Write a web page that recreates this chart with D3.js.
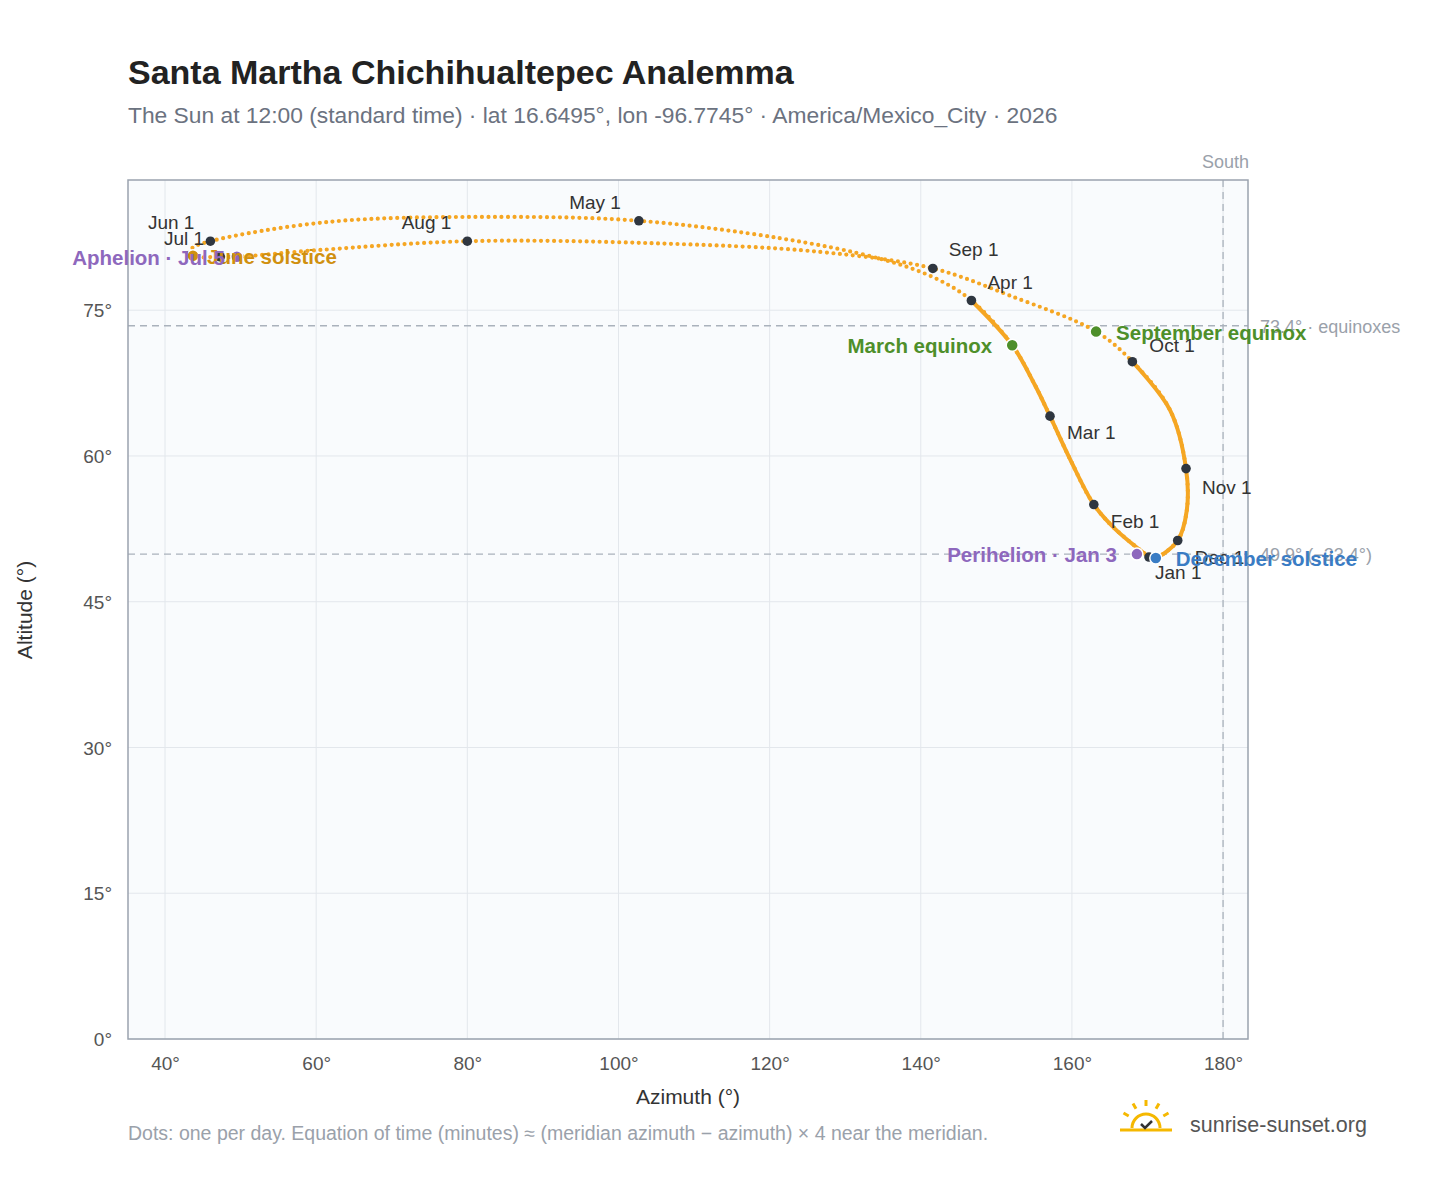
<!DOCTYPE html>
<html><head><meta charset="utf-8">
<script src="https://cdn.jsdelivr.net/npm/d3@7"></script>
<style>body{margin:0;background:#fff;font-family:"Liberation Sans",Arial,sans-serif}</style>
</head><body><svg id="c" width="1448" height="1188"></svg>
<script>
// Sun position at 12:00 (azimuth°, altitude°)
const pathDates = ["Jan 1","Jan 15","Feb 1","Feb 15","Mar 1","Mar 10","Mar 20","Apr 1","Apr 10","Apr 20","Apr 25","May 1","May 10","May 20","Jun 1","Jun 10","Jun 21","Jul 1","Jul 5","Jul 15","Aug 1","Aug 15","Aug 25","Sep 1","Sep 10","Sep 22","Oct 1","Oct 15","Nov 1","Nov 15","Dec 1","Dec 21","Dec 31"];
const pathAz  = [170.2,165.7,162.9,159.8,157.1,155.1,152.1,146.7,141.9,134.6,121.4,102.7,84.3,61.8,46.0,43.6,43.0,47.3,49.5,60.5,80.0,104.2,126.7,141.6,151.8,163.2,168.0,173.0,175.1,175.2,174.0,171.1,170.2];
const pathAlt = [49.6,52.5,55.0,59.6,64.1,67.3,71.4,76.0,78.3,80.3,82.4,84.2,84.6,84.1,82.1,81.4,80.6,80.5,80.5,81.2,82.1,81.9,81.0,79.3,76.5,72.8,69.7,64.7,58.7,54.4,51.3,49.5,49.5];
const monthLabels = ["Jan 1","Feb 1","Mar 1","Apr 1","May 1","Jun 1","Jul 1","Aug 1","Sep 1","Oct 1","Nov 1","Dec 1"];
const monthAz  = [170.2,162.9,157.1,146.7,102.7,46.0,47.3,80.0,141.6,168.0,175.1,174.0];
const monthAlt = [49.6,55.0,64.1,76.0,84.2,82.1,80.5,82.1,79.3,69.7,58.7,51.3];
const eventLabels = ["March equinox","September equinox","June solstice","December solstice","Perihelion · Jan 3","Aphelion · Jul 5"];
const eventAz  = [152.1,163.2,43.7,171.1,168.6,49.5];
const eventAlt = [71.4,72.8,80.6,49.5,49.9,80.5];
const xTicks = [40,60,80,100,120,140,160,180];
const yTicks = [0,15,30,45,60,75];
const refAlt = [73.4,49.9];
const refLabels = ["73.4° · equinoxes","49.9° (−23.4°)"];

// styling
const monthOff = {"Jan 1":[6,22,"start"],"Feb 1":[17,23,"start"],"Mar 1":[17,23,"start"],"Apr 1":[16,-11,"start"],"May 1":[-18,-12,"end"],"Jun 1":[-16,-12,"end"],"Jul 1":[-16,-12,"end"],"Aug 1":[-16,-12,"end"],"Sep 1":[16,-12,"start"],"Oct 1":[17,-10,"start"],"Nov 1":[16,25,"start"],"Dec 1":[17,23,"start"]};
const evStyle = [["#4e8f2a",-20,8,"end"],["#4e8f2a",20,8,"start"],["#d0900f",14,8,"start"],["#3a7cc4",20,8,"start"],["#8e68bd",-20,8,"end"],["#8e68bd",-12,8,"end"]];

const svg = d3.select("#c");
const L=128,R=1248,T=180,B=1039;
const x = d3.scaleLinear().domain([35.1,183.3]).range([L,R]);
const y = d3.scaleLinear().domain([0,88.4]).range([B,T]);

svg.append("text").attr("x",128).attr("y",84).attr("font-size",34).attr("font-weight","bold").attr("fill","#222").text("Santa Martha Chichihualtepec Analemma");
svg.append("text").attr("x",128).attr("y",123).attr("font-size",22.8).attr("fill","#6b7280").text("The Sun at 12:00 (standard time) · lat 16.6495°, lon -96.7745° · America/Mexico_City · 2026");

svg.append("rect").attr("x",L).attr("y",T).attr("width",R-L).attr("height",B-T).attr("fill","#f9fbfd");
const g = svg.append("g");
g.selectAll(".gx").data(xTicks).join("line").attr("x1",d=>x(d)).attr("x2",d=>x(d)).attr("y1",T).attr("y2",B).attr("stroke","#e3e7ec");
g.selectAll(".gy").data(yTicks).join("line").attr("x1",L).attr("x2",R).attr("y1",d=>y(d)).attr("y2",d=>y(d)).attr("stroke","#e3e7ec");

refAlt.forEach((a,i)=>{
  g.append("line").attr("x1",L).attr("x2",R).attr("y1",y(a)).attr("y2",y(a)).attr("stroke","#aab2bc").attr("stroke-dasharray","7,5").attr("stroke-width",1.3);
  svg.append("text").attr("x",1260).attr("y",y(a)+7).attr("font-size",18).attr("fill","#9aa1aa").text(refLabels[i]);
});
g.append("line").attr("x1",x(180)).attr("x2",x(180)).attr("y1",T).attr("y2",B).attr("stroke","#aab2bc").attr("stroke-dasharray","7,5").attr("stroke-width",1.3);
svg.append("text").attr("x",x(180)+26).attr("y",168).attr("text-anchor","end").attr("font-size",18).attr("fill","#9aa1aa").text("South");

svg.append("rect").attr("x",L).attr("y",T).attr("width",R-L).attr("height",B-T).attr("fill","none").attr("stroke","#9aa3ae").attr("stroke-width",1.5);

const ax = svg.append("g").attr("transform",`translate(0,${B})`).call(d3.axisBottom(x).tickValues(xTicks).tickFormat(d=>d+"°").tickSize(0).tickPadding(18));
const ay = svg.append("g").attr("transform",`translate(${L},0)`).call(d3.axisLeft(y).tickValues(yTicks).tickFormat(d=>d+"°").tickSize(0).tickPadding(16));
[ax,ay].forEach(a=>{a.select(".domain").remove();a.selectAll("text").attr("font-size",19).attr("fill","#555").attr("font-family","Liberation Sans, Arial");});
ay.selectAll("text").attr("dy","0.35em");
svg.append("text").attr("x",688).attr("y",1104).attr("text-anchor","middle").attr("font-size",21).attr("fill","#333").text("Azimuth (°)");
svg.append("text").attr("transform","translate(32,610) rotate(-90)").attr("text-anchor","middle").attr("font-size",21).attr("fill","#333").text("Altitude (°)");

const pts = pathAz.map((a,i)=>[x(a),y(pathAlt[i])]);
const ln = d3.line().curve(d3.curveCatmullRom);
g.append("path").attr("d",ln(pts)).attr("fill","none").attr("stroke","#f5a623").attr("stroke-width",4.2).attr("stroke-linecap","round").attr("stroke-dasharray","0 6.5");
g.append("path").attr("d",ln([26,27,28,29,30,31,32].map(i=>pts[i]))).attr("fill","none").attr("stroke","#f5a623").attr("stroke-width",4).attr("stroke-linecap","round");
g.append("path").attr("d",ln([0,1,2,3,4,5,6,7].map(i=>pts[i]))).attr("fill","none").attr("stroke","#f5a623").attr("stroke-width",4).attr("stroke-linecap","round");

monthLabels.forEach((m,i)=>{
  const px=x(monthAz[i]),py=y(monthAlt[i]),o=monthOff[m];
  g.append("circle").attr("cx",px).attr("cy",py).attr("r",4.8).attr("fill","#2f3640");
  svg.append("text").attr("x",px+o[0]).attr("y",py+o[1]).attr("text-anchor",o[2]).attr("font-size",19).attr("fill","#333").text(m);
});
eventLabels.forEach((e,i)=>{
  const px=x(eventAz[i]),py=y(eventAlt[i]),s=evStyle[i];
  g.append("circle").attr("cx",px).attr("cy",py).attr("r",6).attr("fill",s[0]).attr("stroke","#fff").attr("stroke-width",1.5);
  svg.append("text").attr("x",px+s[1]).attr("y",py+s[2]).attr("text-anchor",s[3]).attr("font-size",20.5).attr("font-weight","bold").attr("fill",s[0]).text(e);
});

svg.append("text").attr("x",128).attr("y",1140).attr("font-size",19.5).attr("fill","#9aa1aa").text("Dots: one per day. Equation of time (minutes) ≈ (meridian azimuth − azimuth) × 4 near the meridian.");
const lg = svg.append("g").attr("transform","translate(1146,1124)");
lg.append("path").attr("d","M-14,4 A14,14 0 0 1 14,4").attr("fill","none").attr("stroke","#f5b800").attr("stroke-width",3);
[-60,-30,0,30,60].forEach(a=>{const r=Math.PI*(a-90)/180;lg.append("line").attr("x1",20*Math.cos(r)).attr("y1",20*Math.sin(r)+2).attr("x2",26*Math.cos(r)).attr("y2",26*Math.sin(r)+2).attr("stroke","#f5b800").attr("stroke-width",3);});
lg.append("line").attr("x1",-26).attr("x2",26).attr("y1",6).attr("y2",6).attr("stroke","#f5b800").attr("stroke-width",3);
lg.append("path").attr("d","M-5,0 L-1,4 L6,-3").attr("fill","none").attr("stroke","#333").attr("stroke-width",2.5);
svg.append("text").attr("x",1190).attr("y",1132).attr("font-size",21.5).attr("fill","#555").text("sunrise-sunset.org");
</script></body></html>
